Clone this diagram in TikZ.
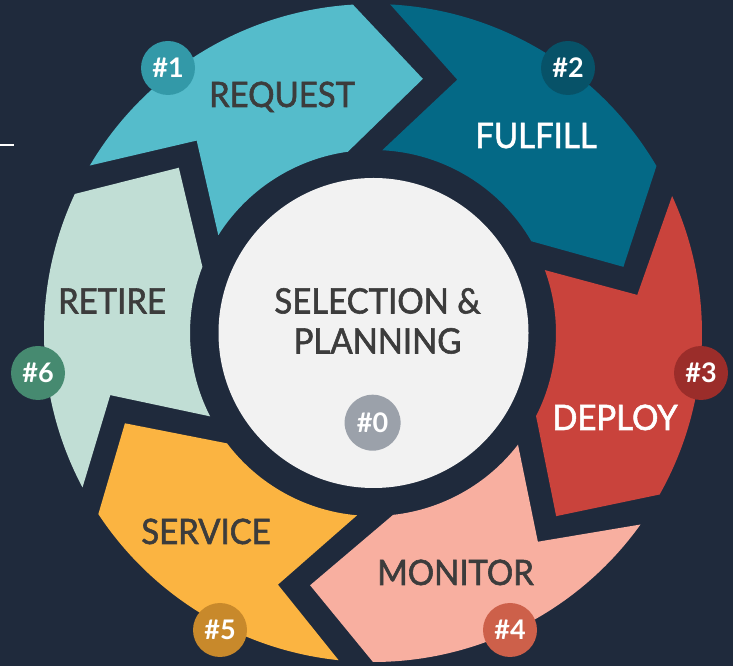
\documentclass[tikz,border=0pt]{standalone}
\usepackage{fontspec}
\setmainfont{Lato}
\newfontfamily\lblfont{Lato}[FakeBold=1.6,FakeStretch=0.94]
\definecolor{bg}{HTML}{1F2A3C}
\definecolor{ink}{HTML}{3C3C3C}
\definecolor{cRequest}{HTML}{55BCCB}
\definecolor{cFulfill}{HTML}{046986}
\definecolor{cDeploy}{HTML}{C9433C}
\definecolor{cMonitor}{HTML}{F8AFA0}
\definecolor{cService}{HTML}{FBB441}
\definecolor{cRetire}{HTML}{C1DED5}
\definecolor{cHub}{HTML}{F2F2F2}
\definecolor{bZero}{HTML}{9BA1AA}
\definecolor{bOne}{HTML}{3399A8}
\definecolor{bTwo}{HTML}{075268}
\definecolor{bThree}{HTML}{9B2D2A}
\definecolor{bFour}{HTML}{CD604A}
\definecolor{bFive}{HTML}{C8892B}
\definecolor{bSix}{HTML}{468A70}

\begin{document}
\begin{tikzpicture}[x=1pt,y=1pt,
		lbl/.style={anchor=base,inner sep=0pt,text=ink,font=\lblfont\fontsize{35}{40}\selectfont},
		badge/.style={circle,minimum size=54pt,inner sep=0pt,text=white,font=\bfseries\fontsize{27}{30}\selectfont}]
		\useasboundingbox (0,0) rectangle (733,666);
		\fill[bg] (0,0) rectangle (733,666);
		\draw[white,line width=1.5pt] (0,521) -- (14,521);

		\begin{scope}[shift={(373,333)}]
		\fill[cRequest] (149.4:329pt) arc[start angle=149.4,end angle=93.5,radius=329pt]
			-- (78.9:259pt) -- (97.9:183pt) arc[start angle=97.9,end angle=147.7,radius=183pt]
			-- (132.5:261pt) -- cycle;
		\fill[cFulfill] (87:329pt) arc[start angle=87,end angle=30.5,radius=329pt]
			-- (14.8:259pt) -- (30.1:183pt) arc[start angle=30.1,end angle=87.1,radius=183pt]
			-- (71.6:267pt) -- cycle;
		\fill[cDeploy] (24.6:329pt) arc[start angle=24.6,end angle=-29.4,radius=329pt]
			-- (-45:259pt) -- (-27:183pt) arc[start angle=-27,end angle=20.1,radius=183pt]
			-- (8.2:267pt) -- cycle;
		\fill[cMonitor] (-35.6:329pt) arc[start angle=-35.6,end angle=-90,radius=329pt]
			-- (-104:260pt) -- (-83.7:183pt) arc[start angle=-83.7,end angle=-37.6,radius=183pt]
			-- (-51.7:266pt) -- cycle;
		\fill[cService] (-96:329pt) arc[start angle=-96,end angle=-146.6,radius=329pt]
			-- (-160:264pt) -- (-142.9:183pt) arc[start angle=-142.9,end angle=-95,radius=183pt]
			-- (-110.7:269pt) -- cycle;
		\fill[cRetire] (-152:329pt) arc[start angle=-152,end angle=-205,radius=329pt]
			-- (-220.4:255pt) -- (-201.2:183pt) arc[start angle=-201.2,end angle=-152.9,radius=183pt]
			-- (-166.7:270pt) -- cycle;
		\end{scope}

		\node[circle,fill=cHub,minimum size=310pt,inner sep=0pt] (hub) at (373.5,333) {};

		% stage labels
		\node[lbl] (request) at (282,559) {REQUEST};
		\node[lbl,text=white] (fulfill) at (536,518) {FULFILL};
		\node[lbl,text=white] (deploy) at (615,236) {DEPLOY};
		\node[lbl] (monitor) at (455.5,81) {MONITOR};
		\node[lbl] (service) at (206,122) {SERVICE};
		\node[lbl] (retire) at (112,352.5) {RETIRE};
		\node[lbl] (selection) at (377.5,352.5) {SELECTION \&};
		\node[lbl] (planning) at (377.5,312.5) {PLANNING};

		% numbers
		\node[badge,fill=bZero,minimum size=56pt] (n0) at (372.6,243.3) {\#0};
		\node[badge,fill=bOne] (n1) at (168,598) {\#1};
		\node[badge,fill=bTwo] (n2) at (568,598) {\#2};
		\node[badge,fill=bThree] (n3) at (701,293) {\#3};
		\node[badge,fill=bFour] (n4) at (510,36) {\#4};
		\node[badge,fill=bFive] (n5) at (220,36) {\#5};
		\node[badge,fill=bSix] (n6) at (38,293) {\#6};
\end{tikzpicture}
\end{document}
